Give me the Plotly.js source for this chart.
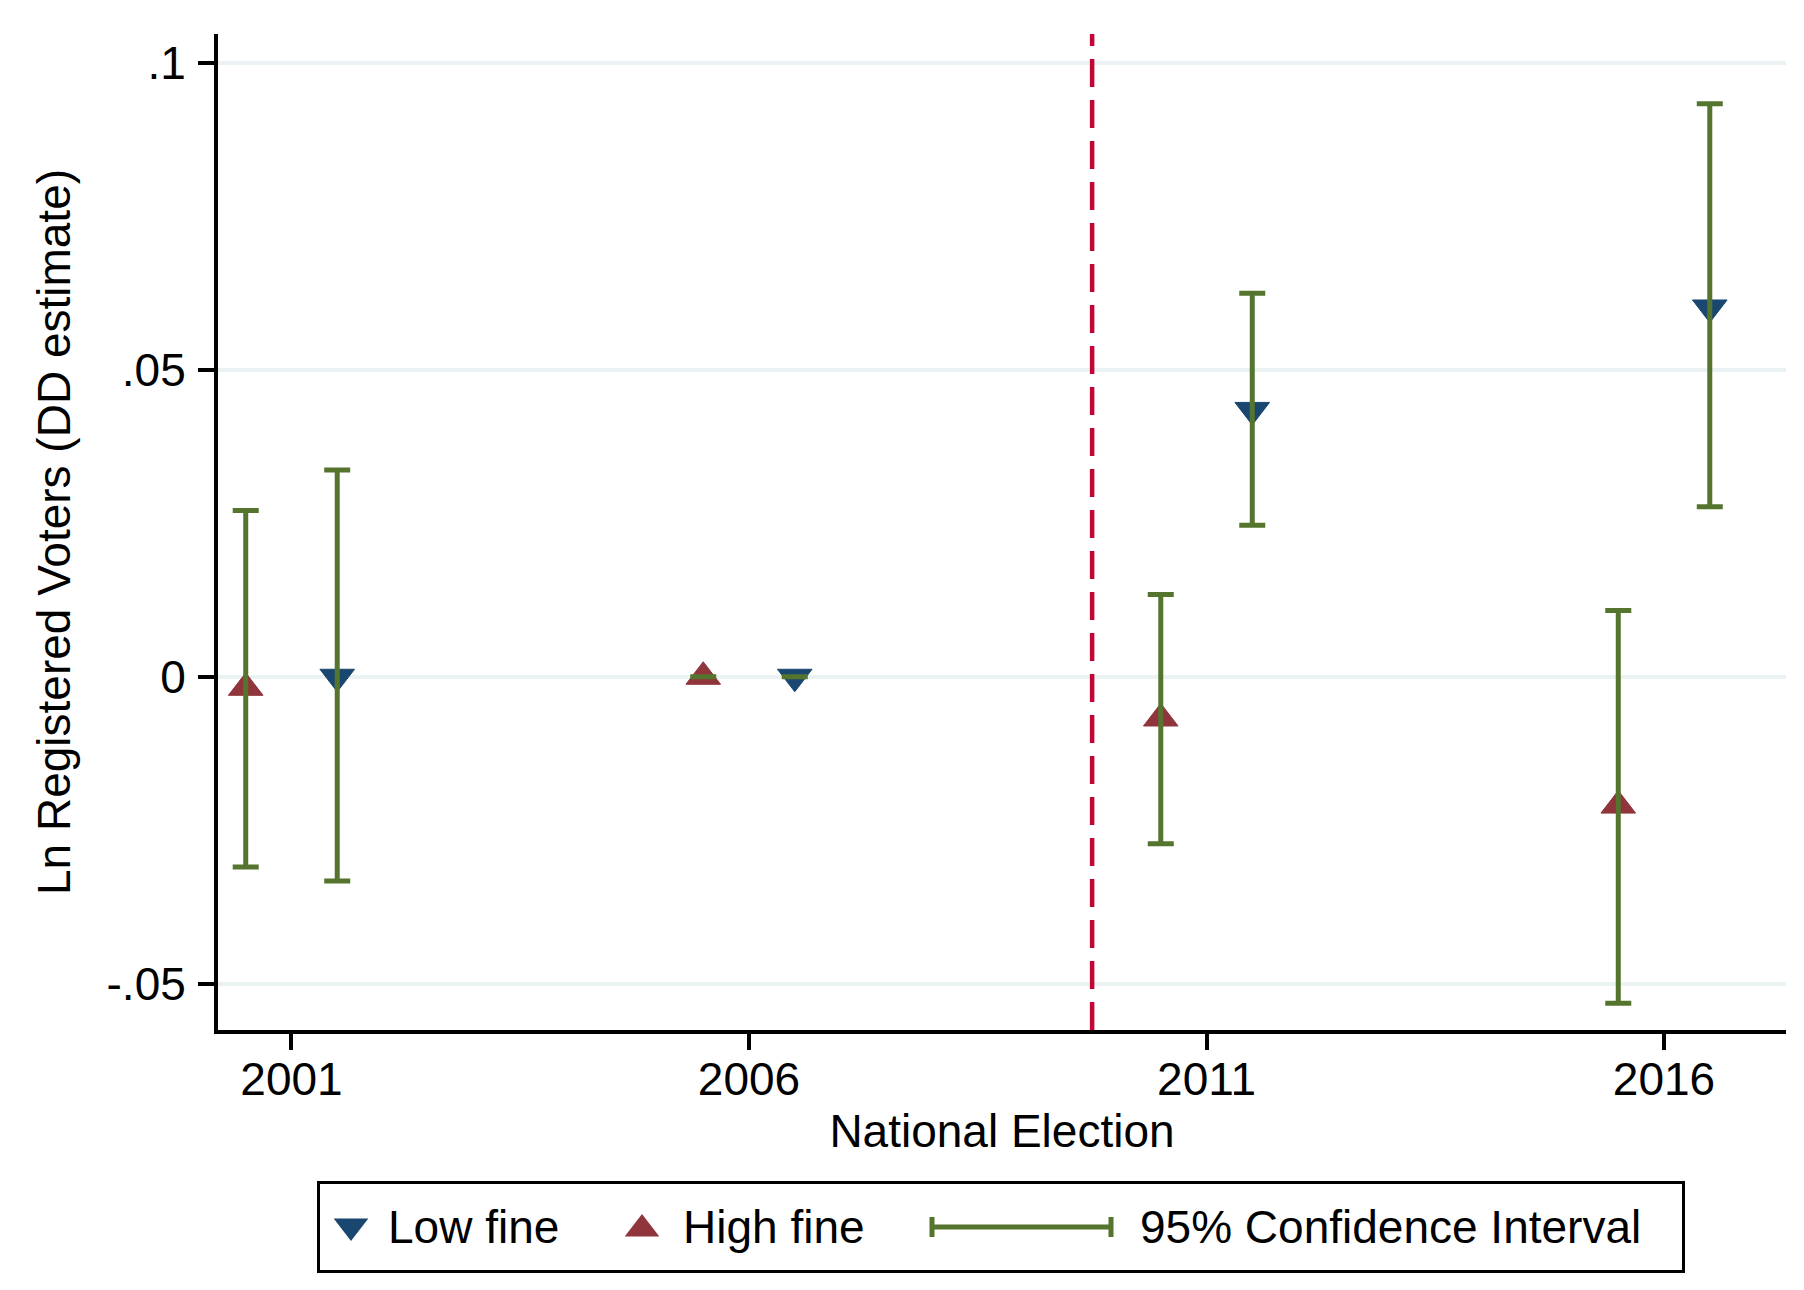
<!DOCTYPE html>
<html>
<head>
<meta charset="utf-8">
<script src="https://cdn.plot.ly/plotly-3.0.1.min.js"></script>
<style>html,body{margin:0;padding:0;background:#fff;}#chart{width:1804px;height:1290px;}</style>
</head>
<body>
<div id="chart"></div>
<script>
// ---- data ----
const elections = [2001, 2006, 2011, 2016];
const lowFine = [0.0000, 0.0000, 0.0435, 0.0602];
const lowFineCILow = [-0.0333, 0.0000, 0.0247, 0.0277];
const lowFineCIHigh = [0.0337, 0.0000, 0.0625, 0.0934];
const highFine = [-0.0018, 0.0000, -0.0068, -0.0210];
const highFineCILow = [-0.0310, 0.0000, -0.0272, -0.0532];
const highFineCIHigh = [0.0271, 0.0000, 0.0134, 0.0108];
const yTickVals = [-0.05, 0, 0.05, 0.1];
const yTickText = ['-.05', '0', '.05', '.1'];
const xTickVals = [2001, 2006, 2011, 2016];
const xTickText = ['2001', '2006', '2011', '2016'];
const treatmentYear = 2009.75;
const legendLabels = ['Low fine', 'High fine', '95% Confidence Interval'];

// ---- style ----
const NAVY = '#1a476f', MAROON = '#90353b', GREEN = '#55752f', CRAN = '#c10534';
const GRID = '#eaf2f3';
const FONT = 'Liberation Sans, Arial, sans-serif';
const offset = 0.5;
const W = 1804, H = 1290;
const px = v => v / W, py = v => (H - v) / H;

const xLow = elections.map(e => e + offset);
const xHigh = elections.map(e => e - offset);
const up = (v, hi) => v.map((d, i) => hi[i] - d);
const dn = (v, lo) => v.map((d, i) => d - lo[i]);

const errStyle = {color: GREEN, thickness: 5, width: 13};
const MS = 30;

const traces = [
  {x: xLow, y: lowFine, type: 'scatter', mode: 'markers', name: legendLabels[0],
   marker: {symbol: 'triangle-down', size: MS, color: NAVY, line: {width: 1, color: NAVY}},
   showlegend: false, xaxis: 'x', yaxis: 'y'},
  {x: xHigh, y: highFine, type: 'scatter', mode: 'markers', name: legendLabels[1],
   marker: {symbol: 'triangle-up', size: MS, color: MAROON, line: {width: 1, color: MAROON}},
   showlegend: false, xaxis: 'x', yaxis: 'y'},
  {x: xLow, y: lowFine, type: 'scatter', mode: 'markers', name: 'CI low',
   marker: {size: 1, color: 'rgba(0,0,0,0)'},
   error_y: Object.assign({type: 'data', symmetric: false, array: up(lowFine, lowFineCIHigh), arrayminus: dn(lowFine, lowFineCILow)}, errStyle),
   showlegend: false, hoverinfo: 'skip'},
  {x: xHigh, y: highFine, type: 'scatter', mode: 'markers', name: 'CI high',
   marker: {size: 1, color: 'rgba(0,0,0,0)'},
   error_y: Object.assign({type: 'data', symmetric: false, array: up(highFine, highFineCIHigh), arrayminus: dn(highFine, highFineCILow)}, errStyle),
   showlegend: false, hoverinfo: 'skip'},
  // legend symbols (legend panel in pixel coordinates)
  {x: [351], y: [1226], type: 'scatter', mode: 'markers', xaxis: 'x2', yaxis: 'y2',
   marker: {symbol: 'triangle-down', size: MS, color: NAVY}, showlegend: false, hoverinfo: 'skip'},
  {x: [642], y: [1229], type: 'scatter', mode: 'markers', xaxis: 'x2', yaxis: 'y2',
   marker: {symbol: 'triangle-up', size: MS, color: MAROON}, showlegend: false, hoverinfo: 'skip'},
  {x: [1021.5], y: [1227], type: 'scatter', mode: 'markers', xaxis: 'x2', yaxis: 'y2',
   marker: {size: 1, color: 'rgba(0,0,0,0)'},
   error_x: {type: 'constant', value: 89.5, color: GREEN, thickness: 5, width: 10},
   showlegend: false, hoverinfo: 'skip'}
];

const layout = {
  width: W, height: H,
  margin: {l: 0, r: 0, t: 0, b: 0},
  paper_bgcolor: '#fff', plot_bgcolor: '#fff',
  font: {family: FONT, size: 46, color: '#000'},
  showlegend: false,
  xaxis: {
    domain: [px(218), px(1786)], range: [2000.197, 2017.333],
    tickvals: xTickVals, ticktext: xTickText, ticks: 'outside', ticklen: 16, tickwidth: 4, tickcolor: '#000',
    ticklabelstandoff: -10,
    showline: true, linewidth: 4, linecolor: '#000', showgrid: false, zeroline: false,
    tickfont: {family: FONT, size: 46}, anchor: 'y',
    title: {text: 'National Election', font: {family: FONT, size: 46}, standoff: 0}
  },
  yaxis: {
    domain: [py(1030), py(34)], range: [-0.05758, 0.10478],
    tickvals: yTickVals, ticktext: yTickText, ticks: 'outside', ticklen: 16, tickwidth: 4, tickcolor: '#000',
    ticklabelstandoff: 3,
    showline: true, linewidth: 4, linecolor: '#000', showgrid: true, gridcolor: GRID, gridwidth: 4,
    zeroline: false, tickfont: {family: FONT, size: 46}, anchor: 'x',
    title: {text: 'Ln Registered Voters (DD estimate)', font: {family: FONT, size: 46}, standoff: 22}
  },
  xaxis2: {domain: [px(320), px(1682)], range: [320, 1682], anchor: 'y2',
    showline: true, mirror: true, linewidth: 3, linecolor: '#000',
    showgrid: false, zeroline: false, showticklabels: false, ticks: '', fixedrange: true},
  yaxis2: {domain: [py(1270), py(1184)], range: [1270, 1184], anchor: 'x2',
    showline: true, mirror: true, linewidth: 3, linecolor: '#000',
    showgrid: false, zeroline: false, showticklabels: false, ticks: '', fixedrange: true},
  shapes: [
    {type: 'line', xref: 'x', yref: 'y domain', x0: treatmentYear, x1: treatmentYear, y0: 0, y1: 1,
     line: {color: CRAN, width: 4.5, dash: '28px,13px'}, layer: 'above'}
  ],
  annotations: [
    {xref: 'x2', yref: 'y2', x: 386, y: 1227, text: legendLabels[0], showarrow: false, xanchor: 'left', yanchor: 'middle', font: {family: FONT, size: 46}},
    {xref: 'x2', yref: 'y2', x: 681, y: 1227, text: legendLabels[1], showarrow: false, xanchor: 'left', yanchor: 'middle', font: {family: FONT, size: 46}},
    {xref: 'x2', yref: 'y2', x: 1138, y: 1227, text: legendLabels[2], showarrow: false, xanchor: 'left', yanchor: 'middle', font: {family: FONT, size: 46}}
  ]
};

Plotly.newPlot('chart', traces, layout, {staticPlot: true, displayModeBar: false});
</script>
</body>
</html>
